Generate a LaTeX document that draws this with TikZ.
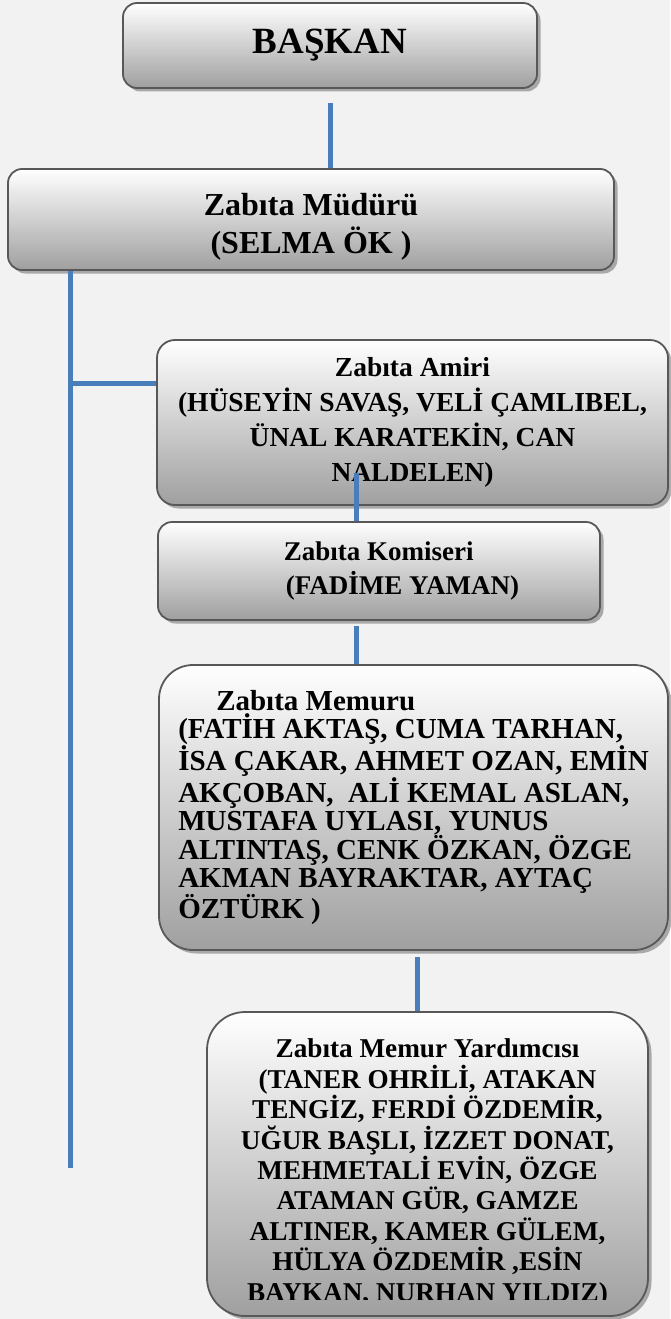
\documentclass[tikz,border=0pt]{standalone}
\usepackage{fontspec}
\setmainfont{Liberation Serif}
\usetikzlibrary{shadows}
\definecolor{linkblue}{RGB}{74,126,187}
\definecolor{pagebg}{RGB}{242,242,242}
\definecolor{boxline}{RGB}{88,88,88}
\tikzset{
  box/.style={draw=boxline, line width=1.8pt, rounded corners=14pt,
    top color=white, bottom color=gray!75, inner sep=2pt,
    drop shadow={shadow xshift=3.5pt, shadow yshift=-3.5pt, fill=black, opacity=0.3}},
  link/.style={draw=linkblue, line width=5pt}
}
\begin{document}
\begin{tikzpicture}[x=1pt,y=-1pt]
    \fill[pagebg] (0,0) rectangle (670,1319);
    \useasboundingbox (0,0) rectangle (670,1319);
    % boxes
    \node[box, minimum width=414pt, minimum height=85pt, font=\bfseries\fontsize{37}{44}\selectfont] (baskan) at (330,45.5) {BAŞKAN};
    \node[box, minimum width=606pt, minimum height=101pt] (mudur) at (311,219.5) {};
    \node[align=center, font=\bfseries\fontsize{32}{38}\selectfont] (mudurtext) at ([yshift=-7pt]mudur.center) {Zabıta Müdürü\\(SELMA ÖK )};
    \node[box, rounded corners=18pt, minimum width=511pt, minimum height=165pt, align=center, font=\bfseries\fontsize{27.5}{35}\selectfont] (amir) at (412.5,422.5) {Zabıta Amiri\\(HÜSEYİN SAVAŞ, VELİ ÇAMLIBEL,\\ÜNAL KARATEKİN, CAN\\NALDELEN)};
    \node[box, minimum width=442pt, minimum height=98pt, align=left, font=\bfseries\fontsize{27}{35}\selectfont] (komiser) at (379,571) {\hspace*{45pt}Zabıta Komiseri\\\hspace*{47pt}(FADİME YAMAN)};
    \node[box, rounded corners=34pt, minimum width=509pt, minimum height=285pt, align=left, font=\bfseries\fontsize{29}{28}\selectfont] (memur) at (413.5,807.5) {\hspace*{38pt}Zabıta Memuru\\(FATİH AKTAŞ, CUMA TARHAN,\\İSA ÇAKAR, AHMET OZAN, EMİN\\AKÇOBAN, \ ALİ KEMAL ASLAN,\\MUSTAFA UYLASI, YUNUS\\ALTINTAŞ, CENK ÖZKAN, ÖZGE\\AKMAN BAYRAKTAR, AYTAÇ\\ÖZTÜRK )};
    \node[box, rounded corners=38pt, minimum width=441pt, minimum height=304pt] (yard) at (427.5,1164) {};
    \begin{scope}
      \clip (200,1005) rectangle (660,1299);
      \node[align=center, font=\bfseries\fontsize{27.2}{30.4}\selectfont] (yardtext) at (427.5,1173) {Zabıta Memur Yardımcısı\\(TANER OHRİLİ, ATAKAN\\TENGİZ, FERDİ ÖZDEMİR,\\UĞUR BAŞLI, İZZET DONAT,\\MEHMETALİ EVİN, ÖZGE\\ATAMAN GÜR, GAMZE\\ALTINER, KAMER GÜLEM,\\HÜLYA ÖZDEMİR ,ESİN\\BAYKAN, NURHAN YILDIZ)};
    \end{scope}
    % lines
    \coordinate (leftend) at (70,1168);
    \coordinate (branch) at (70,383);
    \coordinate (amirtop) at (356,473);
    \coordinate (memurbot) at (417,957);
    \draw[link] ([yshift=-14pt]baskan.south) -- (baskan.south |- mudur.north);
    \draw[link] (mudur.south -| leftend) -- (leftend);
    \draw[link] (branch) -- (branch -| amir.west);
    \draw[link] (amirtop) -- (amirtop |- komiser.north);
    \draw[link] ([yshift=-5pt]komiser.south -| amirtop) -- (amirtop |- memur.north);
    \draw[link] (memurbot) -- (memurbot |- yard.north);
\end{tikzpicture}
\end{document}
